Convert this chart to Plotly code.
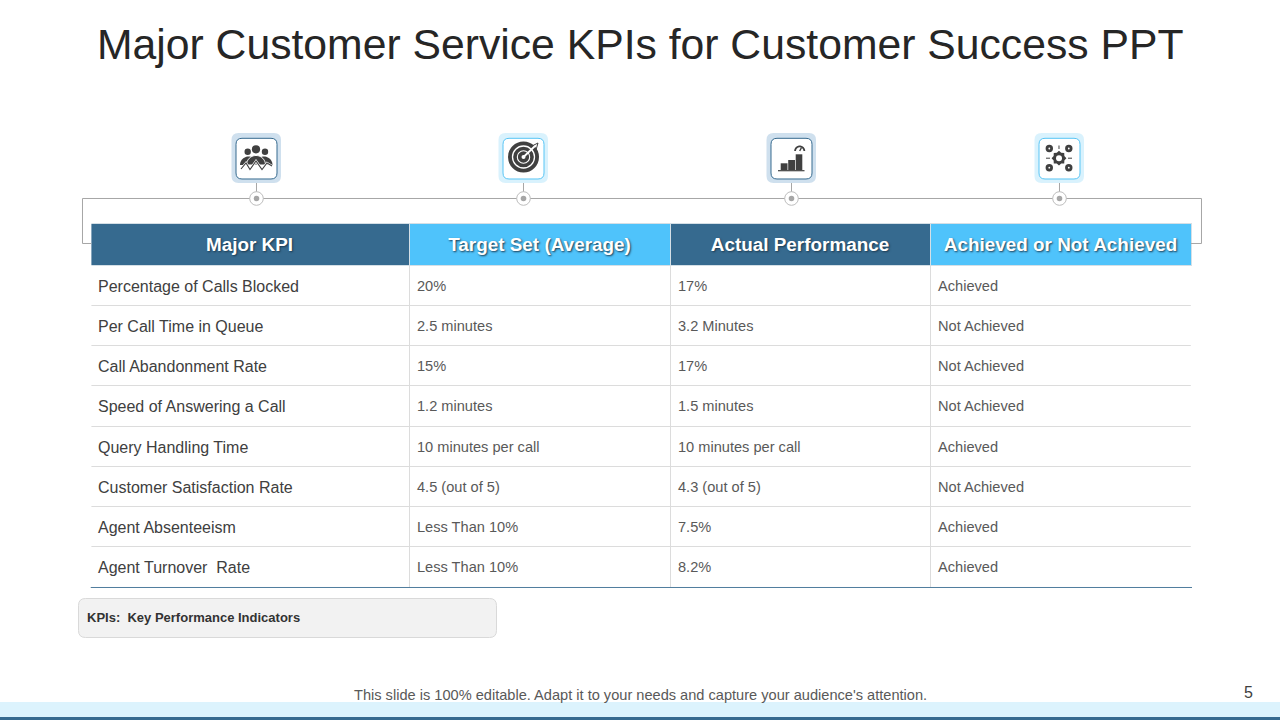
import math
import plotly.graph_objects as go

W, H = 1280, 720

title = "Major Customer Service KPIs for Customer Success PPT"
headers = ["Major KPI", "Target Set (Average)", "Actual Performance", "Achieved or Not Achieved"]
kpis = ["Percentage of Calls Blocked", "Per Call Time in Queue", "Call Abandonment Rate",
        "Speed of Answering a Call", "Query Handling Time", "Customer Satisfaction Rate",
        "Agent Absenteeism", "Agent Turnover\u00a0 Rate"]
targets = ["20%", "2.5 minutes", "15%", "1.2 minutes", "10 minutes per call", "4.5 (out of 5)",
           "Less Than 10%", "Less Than 10%"]
actuals = ["17%", "3.2 Minutes", "17%", "1.5 minutes", "10 minutes per call", "4.3 (out of 5)",
           "7.5%", "8.2%"]
status = ["Achieved", "Not Achieved", "Not Achieved", "Not Achieved", "Achieved", "Not Achieved",
          "Achieved", "Achieved"]
note = "KPIs:\u00a0 Key Performance Indicators"
footer = "This slide is 100% editable. Adapt it to your needs and capture your audience's attention."

DARK, LIGHT = "#366a8f", "#4fc3fb"
DARK_HALO, LIGHT_HALO = "#cfe0ee", "#d9f2fd"
INK = "#404040"


def px(x):
    return x / W


def py(y):
    return 1 - y / H


def pt(x, y):
    return f"{px(x):.5f},{py(y):.5f}"


shapes = []


def path(d, fill=None, line=None, width=1, layer="above"):
    shapes.append(dict(type="path", xref="paper", yref="paper", path=d, layer=layer,
                       fillcolor=fill or "rgba(0,0,0,0)",
                       line=dict(color=line or "rgba(0,0,0,0)", width=width if line else 0)))


def poly(points, closed=False):
    d = "M" + " L".join(pt(x, y) for x, y in points)
    return d + (" Z" if closed else "")


def rrect(x0, y0, x1, y1, r):
    return (f"M{pt(x0 + r, y0)} L{pt(x1 - r, y0)} Q{pt(x1, y0)} {pt(x1, y0 + r)} "
            f"L{pt(x1, y1 - r)} Q{pt(x1, y1)} {pt(x1 - r, y1)} L{pt(x0 + r, y1)} "
            f"Q{pt(x0, y1)} {pt(x0, y1 - r)} L{pt(x0, y0 + r)} Q{pt(x0, y0)} {pt(x0 + r, y0)} Z")


def circle(cx, cy, r, fill=None, line=None, width=1):
    shapes.append(dict(type="circle", xref="paper", yref="paper", layer="above",
                       x0=px(cx - r), x1=px(cx + r), y0=py(cy + r), y1=py(cy - r),
                       fillcolor=fill or "rgba(0,0,0,0)",
                       line=dict(color=line or "rgba(0,0,0,0)", width=width if line else 0)))


def rect(x0, y0, x1, y1, fill, layer="above"):
    shapes.append(dict(type="rect", xref="paper", yref="paper", layer=layer,
                       x0=px(x0), x1=px(x1), y0=py(y1), y1=py(y0),
                       fillcolor=fill, line=dict(width=0)))


def arc(cx, cy, r, a0, a1, n=24):
    return [(cx + r * math.cos(math.radians(a0 + (a1 - a0) * i / n)),
             cy + r * math.sin(math.radians(a0 + (a1 - a0) * i / n))) for i in range(n + 1)]


# table clean-up: no outer verticals, header starts a pixel in
rect(89, 222, 91.4, 587, "#ffffff")
rect(1190.8, 266, 1193, 587, "#ffffff")
path(poly([(91, 587.5), (1192, 587.5)]), line="#4f7d9d", width=1)

# connector frame
LINE = "#a6a6a6"
path(poly([(91.4, 243.5), (82.5, 243.5), (82.5, 198.5), (1201.5, 198.5), (1201.5, 243.5), (1191, 243.5)]),
     line=LINE, width=1)

# icon holders
centers = [256.5, 523.5, 791.5, 1059.5]
for i, c in enumerate(centers):
    halo, edge = (DARK_HALO, DARK) if i % 2 == 0 else (LIGHT_HALO, "#58c5f5")
    path(poly([(c, 183), (c, 192)]), line=LINE, width=1)
    circle(c, 198.5, 6.8, fill="#ffffff", line="#bdbdbd", width=1)
    circle(c, 198.5, 2.8, fill="#a6a6a6")
    path(rrect(c - 25, 133, c + 24.5, 183, 7), fill=halo)
    path(rrect(c - 20.5, 138.3, c + 20.5, 179, 6), fill="#ffffff", line=edge, width=1)

# icon 1: people and zigzag
for cx, cy, r in [(247.7, 151.7, 3.2), (265, 151.7, 3.2), (256, 149.3, 4.1)]:
    circle(cx, cy, r, fill=INK)
path(poly(arc(248.5, 165, 8.5, 180, 360), True), fill=INK)
path(poly(arc(264, 165, 8.5, 180, 360), True), fill=INK)
path(poly(arc(256, 165, 9.5, 180, 360), True), fill=INK, line="#ffffff", width=1)
path(poly([(241, 169), (246, 163), (250, 169.5), (256, 161), (262, 169.5), (267, 163), (272, 166)]),
     line="#ffffff", width=2.4)
path(poly([(241, 169), (246, 163), (250, 169.5), (256, 161), (262, 169.5), (267, 163), (272, 166)]),
     line=INK, width=1.1)

# icon 2: target
circle(523.5, 157, 15.5, fill=INK)
circle(523.5, 157, 11, line="#ffffff", width=1.3)
circle(523.5, 157, 6.2, line="#ffffff", width=1.1)
circle(523.5, 157, 2, fill="#ffffff")
path(poly([(523.5, 157), (535, 146)]), line="#ffffff", width=1.8)
path(poly([(532, 146), (538, 143), (536, 150)]), line=INK, width=1)

# icon 3: bars and gauge
rect(780.7, 163.3, 787.5, 170, INK)
rect(788.2, 160, 795, 170, INK)
rect(795.7, 154.3, 802.3, 170, INK)
path(poly([(778, 170.7), (804.5, 170.7)]), line=INK, width=1.2)
path(poly(arc(799.7, 151, 4.6, 180, 360)), line=INK, width=1.8)
path(poly([(799.7, 151), (801.5, 147.5)]), line=INK, width=1.4)

# icon 4: gear hub with four badges
gear = []
for k in range(16):
    r = 7.4 if k % 2 == 0 else 5.8
    a = math.radians(k * 22.5)
    gear.append((1059 + r * math.cos(a), 158.2 + r * math.sin(a)))
path(poly(gear, True), fill=INK)
circle(1059, 158.2, 3, fill="#ffffff")
for cx, cy in [(1049.3, 148.5), (1068.8, 148.5), (1049.3, 167.7), (1068.8, 167.7)]:
    circle(cx, cy, 3.7, fill=INK)
    circle(cx, cy, 0.9, fill="#ffffff")
for seg in [[(1046, 158.2), (1050, 158.2)], [(1068, 158.2), (1072, 158.2)], [(1059, 145.5), (1059, 149)]]:
    path(poly(seg), line=INK, width=1)

# note card and footer band
path(rrect(78.5, 598.5, 496.5, 637.5, 7), fill="#f2f2f2", line="#d9d9d9", width=1)
rect(0, 702, W, 717, "#dcf3fd")
rect(0, 717, W, H, DARK)

table = go.Table(
    domain=dict(x=[px(90), px(1191)], y=[py(589), py(223)]),
    columnwidth=[319, 261, 260, 261],
    header=dict(values=[f"<b>{h}</b>" for h in headers], height=42, align="center",
                fill_color=[DARK, LIGHT, DARK, LIGHT],
                line=dict(color="#d4dfe6", width=1),
                font=dict(family="Liberation Sans", size=18.9, color="#ffffff",
                          shadow="1px 1px 2px #1c3a50")),
    cells=dict(values=[kpis, targets, actuals, status], height=40.25, align="left",
               fill_color="#ffffff", line=dict(color="#dcdcdc", width=1),
               font=dict(family="Liberation Sans", size=[16, 14.6, 14.6, 14.6],
                         color=["#404040", "#595959", "#595959", "#595959"])),
)

annotations = [
    dict(text=title, x=px(640), y=py(44), font=dict(size=42.7, color="#262626")),
    dict(text=note, x=px(85), y=py(617.5), xanchor="left",
         font=dict(size=13, color="#333333", weight="bold")),
    dict(text=footer, x=px(640.5), y=py(694.5), font=dict(size=14.6, color="#595959")),
    dict(text="5", x=px(1248), y=py(692), font=dict(size=16, color="#404040")),
]
for a in annotations:
    a.update(xref="paper", yref="paper", showarrow=False, yanchor=a.get("yanchor", "middle"),
             xanchor=a.get("xanchor", "center"))
    a["font"]["family"] = "Liberation Sans"

fig = go.Figure(table)
fig.update_layout(width=W, height=H, margin=dict(l=0, r=0, t=0, b=0), paper_bgcolor="#ffffff",
                  plot_bgcolor="#ffffff", showlegend=False, shapes=shapes, annotations=annotations,
                  font=dict(family="Liberation Sans"))

# Plotly tables have no vertical alignment option: centre the text in its row with CSS.
css = ".column-block .cell-text{translate:0 6.6px;} #header .cell-text{translate:0 2.5px;}"
post = ("document.body.style.margin='0';document.documentElement.style.overflow='hidden';"
        "var s=document.createElement('style');s.textContent=" + repr(css) + ";document.head.appendChild(s);")
fig.write_html("out.html", config=dict(displayModeBar=False), post_script=post)
